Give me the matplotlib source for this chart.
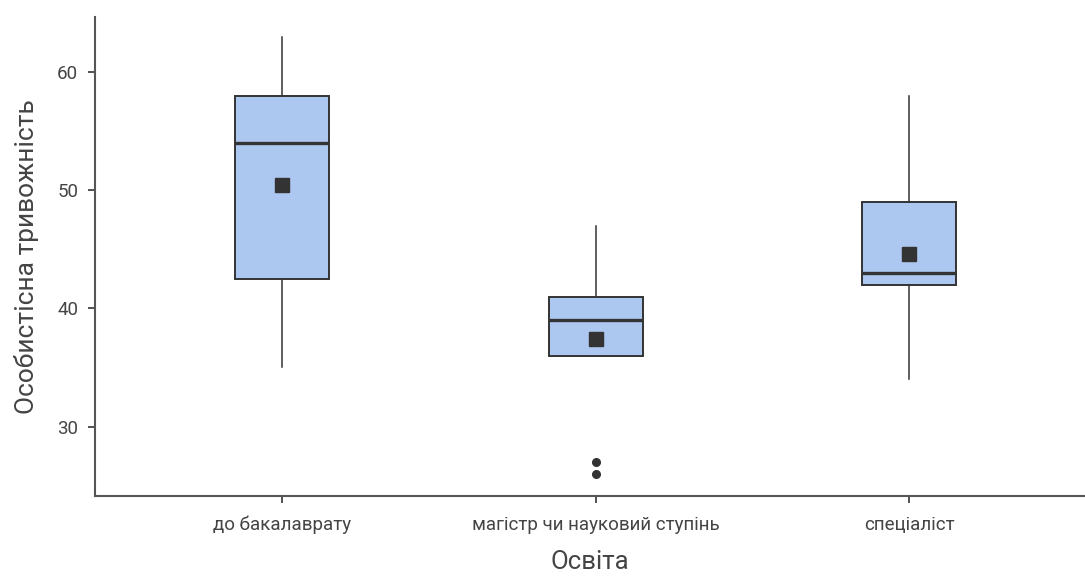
import matplotlib
matplotlib.use("Agg")
import matplotlib.pyplot as plt

plt.rcParams['font.family'] = ['Roboto', 'DejaVu Sans']

# Summary statistics per education group
categories = ["до бакалаврату", "магістр чи науковий ступінь", "спеціаліст"]
whisker_low = [35, 36, 34]
q1 = [42.5, 36, 42]
median = [54, 39, 43]
q3 = [58, 41, 49]
whisker_high = [63, 47, 58]
mean = [50.4, 37.4, 44.6]
outliers = [[], [27, 26], []]

y_ticks = [30, 40, 50, 60]

stats = []
for i, name in enumerate(categories):
    stats.append(dict(label=name, whislo=whisker_low[i], q1=q1[i], med=median[i],
                      q3=q3[i], whishi=whisker_high[i], mean=mean[i],
                      fliers=outliers[i]))

fig = plt.figure(figsize=(10.85, 5.76), dpi=100)
ax = fig.add_axes([95 / 1085, 1 - 496.3 / 576, 1 - 95 / 1085, (496.3 - 16.5) / 576])

edge = "#333333"
ax.bxp(stats, positions=range(len(categories)), widths=0.30, patch_artist=True,
       showmeans=True, showcaps=False,
       boxprops=dict(facecolor="#adc8f0", edgecolor=edge, linewidth=1.4),
       medianprops=dict(color=edge, linewidth=2.4),
       whiskerprops=dict(color=edge, linewidth=1.1),
       meanprops=dict(marker="s", markerfacecolor=edge, markeredgecolor=edge,
                      markersize=10),
       flierprops=dict(marker="o", markerfacecolor=edge, markeredgecolor=edge,
                       markersize=5.5))

ax.set_xlim(-0.597, 2.56)
ax.set_ylim(24.1, 64.7)
ax.set_yticks(y_ticks)
ax.set_xticks(range(len(categories)))
ax.set_xticklabels(categories)

for side in ("top", "right"):
    ax.spines[side].set_visible(False)
for side in ("left", "bottom"):
    ax.spines[side].set_color("#555555")
    ax.spines[side].set_linewidth(1.5)

ax.tick_params(axis="both", colors="#333333", labelcolor="#444444", labelsize=13.5,
               length=5, width=1.2, pad=7)
ax.tick_params(axis="x", pad=9)

ax.set_xlabel("Освіта", fontsize=18.5, color="#444444", labelpad=11)
ax.set_ylabel("Особистісна тривожність", fontsize=19, color="#444444", labelpad=13)

fig.savefig("out.png", dpi=100)
